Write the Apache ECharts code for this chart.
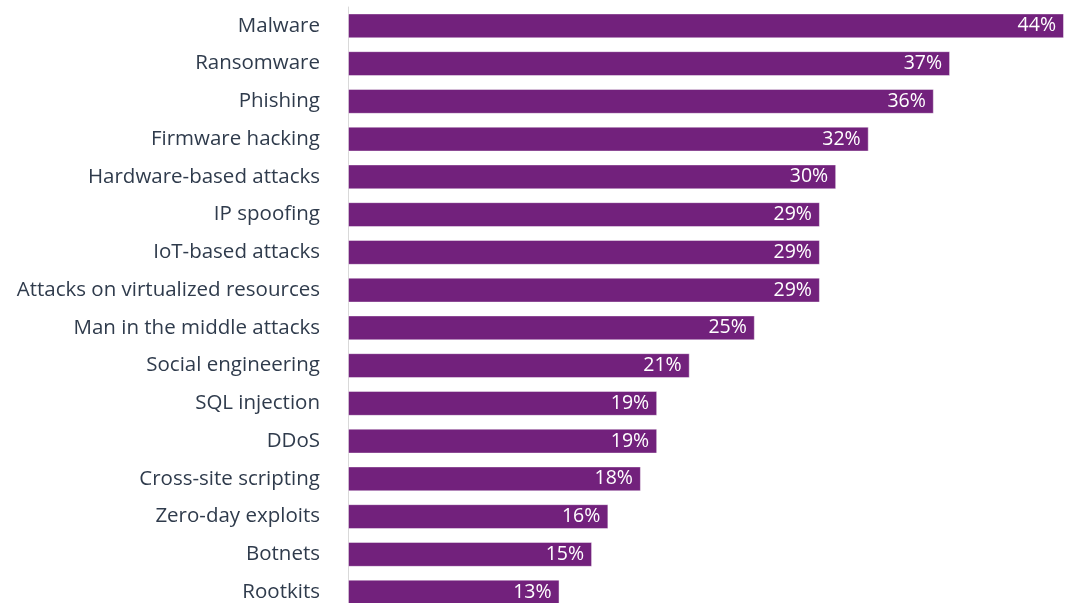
<!DOCTYPE html>
<html>
<head>
<meta charset="utf-8">
<script src="https://cdn.jsdelivr.net/npm/echarts@6/dist/echarts.min.js"></script>
<style>
  html, body { margin: 0; padding: 0; background: #ffffff; overflow: hidden; }
  /* the last row runs slightly past the bottom of the view */
  #chart { width: 1065px; height: 620px; }
</style>
</head>
<body>
<div id="chart"></div>
<script>
// Attack types, listed top to bottom
const categories = [
  'Malware', 'Ransomware', 'Phishing', 'Firmware hacking', 'Hardware-based attacks',
  'IP spoofing', 'IoT-based attacks', 'Attacks on virtualized resources',
  'Man in the middle attacks', 'Social engineering', 'SQL injection', 'DDoS',
  'Cross-site scripting', 'Zero-day exploits', 'Botnets', 'Rootkits'
];
// Share of respondents (%)
const shares = [44, 37, 36, 32, 30, 29, 29, 29, 25, 21, 19, 19, 18, 16, 15, 13];

const chart = echarts.init(document.getElementById('chart'));
chart.setOption({
  animation: false,
  grid: { left: 348, right: 1, top: 7, height: 604, containLabel: false },
  xAxis: {
    type: 'value', min: 0, max: 44,
    show: false
  },
  yAxis: {
    type: 'category',
    inverse: true,
    data: categories,
    axisLine: { show: true, lineStyle: { color: '#d9d9d9', width: 1 } },
    axisTick: { show: false },
    axisLabel: {
      margin: 28,
      color: '#2f3b4c',
      fontFamily: '"Open Sans", sans-serif',
      fontSize: 20.5
    }
  },
  series: [{
    type: 'bar',
    data: shares,
    barCategoryGap: '34%',
    itemStyle: { color: '#72217c', borderColor: 'rgba(255,255,255,0.45)', borderWidth: 1 },
    label: {
      show: true,
      position: 'insideRight',
      distance: 8,
      color: '#ffffff',
      fontFamily: '"Open Sans", sans-serif',
      fontSize: 19.5,
      formatter: p => p.value + '%'
    }
  }]
});
</script>
</body>
</html>
